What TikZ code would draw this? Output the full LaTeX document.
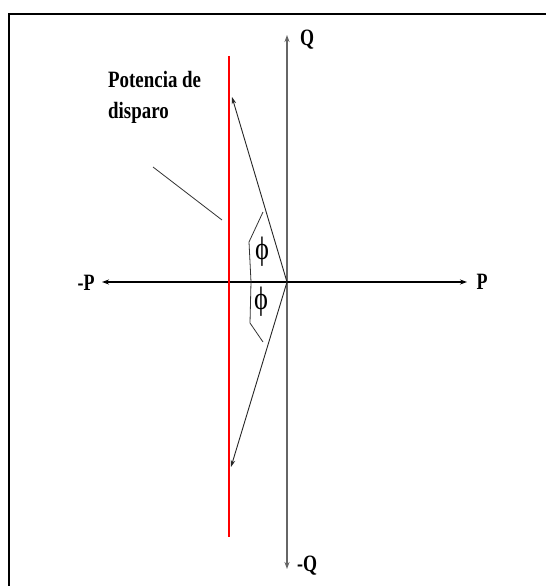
\documentclass[tikz,border=0pt]{standalone}
\usepackage{fontspec}
\setmainfont{Liberation Serif}
\usetikzlibrary{arrows.meta}
\begin{document}
\begin{tikzpicture}[x=1pt,y=-1pt,
  lbl/.style={font=\bfseries\fontsize{18}{20}\selectfont, inner sep=0pt},
  axis/.style={line width=1.3pt, -{Stealth[length=7pt,width=5pt]}},
  vec/.style={line width=0.9pt, draw=black!85, -{Stealth[length=7pt,width=4.5pt]}},
  thin/.style={line width=0.8pt, draw=black!80},
  philbl/.style={inner sep=0pt, font=\fontsize{24}{26}\selectfont}]
\useasboundingbox (0,0) rectangle (546,586);
\fill[white] (0,0) rectangle (546,586);
% frame
\draw[line width=2pt] (8.5,586) -- (8.5,14) -- (546,14);
% coordinates
\coordinate (O) at (287,282);
\coordinate (qt) at (287,35);
\coordinate (qb) at (287,569);
\coordinate (pl) at (102,282);
\coordinate (pr) at (467,282);
\coordinate (rt) at (229,56);
\coordinate (rb) at (229,537);
\coordinate (vt) at (232,97);
\coordinate (vb) at (231,467);
\coordinate (l1) at (153,167);
\coordinate (l2) at (222,220);
% axes
\draw[axis, draw=black!60] (O) -- (qt);
\draw[axis, draw=black!60] (O) -- (qb);
\draw[line width=1.2pt, black, {Stealth[length=7pt,width=5pt]}-{Stealth[length=7pt,width=5pt]}] (pl) -- (pr);
% red line
\draw[line width=2pt, red] (rt) -- (rb);
% vectors
\draw[vec] (O) -- (vt);
\draw[vec] (O) -- (vb);
% angle brackets
\draw[thin] (263,212) -- (249,242) -- (251,282) -- (250,323) -- (263,342);
% leader
\draw[thin] (l1) -- (l2);
% labels
\node[lbl] (Q) at (307,40) {\scalebox{1}[1.3]{Q}};
\node[lbl] (mQ) at (307,566) {\scalebox{1}[1.3]{-Q}};
\node[lbl] (mP) at (86,283) {\scalebox{1}[1.3]{-P}};
\node[lbl] (P) at (482,282) {\scalebox{1}[1.3]{P}};
\node[lbl, anchor=north west] (txt) at (108,71) {\scalebox{1.05}[1.3]{Potencia de}};
\node[lbl, anchor=north west] (txt2) at (108,102) {\scalebox{1.05}[1.3]{disparo}};
\node[philbl] (phi1) at (262,252) {\scalebox{1.1}[1.35]{ϕ}};
\node[philbl] (phi2) at (261,302) {\scalebox{1.1}[1.35]{ϕ}};
\end{tikzpicture}
\end{document}
